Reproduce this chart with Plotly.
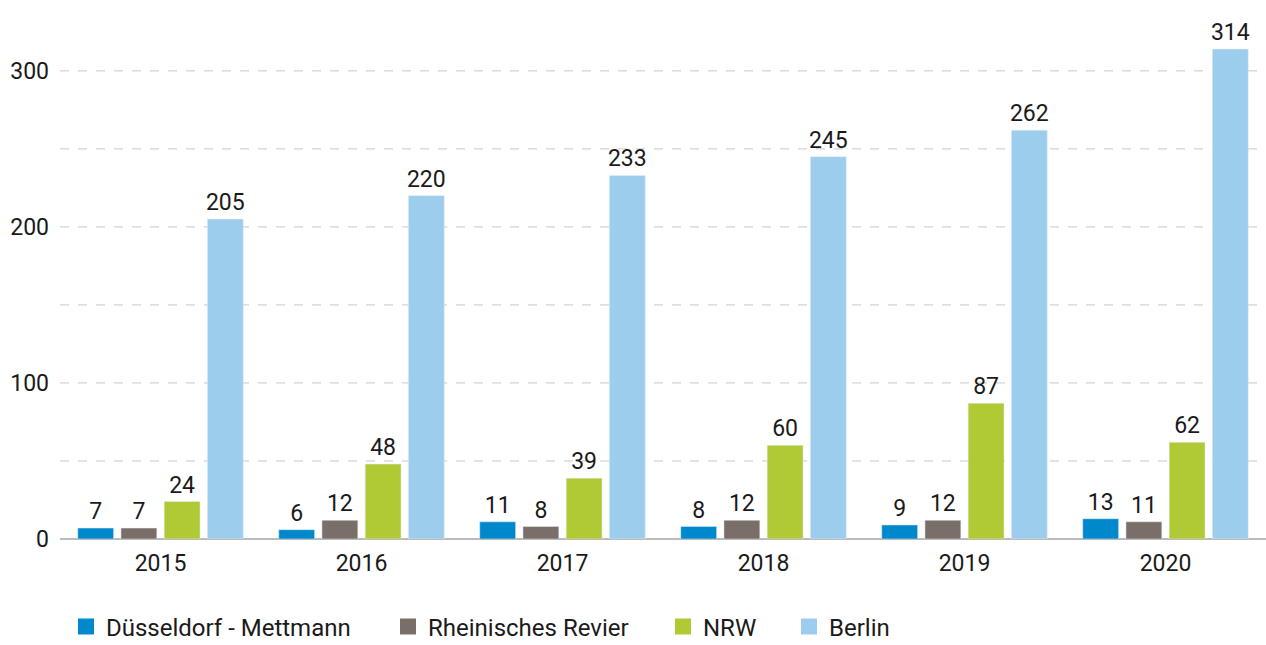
import plotly.graph_objects as go

years = ["2015", "2016", "2017", "2018", "2019", "2020"]
duesseldorf = [7, 6, 11, 8, 9, 13]
rheinisches = [7, 12, 8, 12, 12, 11]
nrw = [24, 48, 39, 60, 87, 62]
berlin = [205, 220, 233, 245, 262, 314]

series_names = ["Düsseldorf - Mettmann", "Rheinisches Revier", "NRW", "Berlin"]
series_values = [duesseldorf, rheinisches, nrw, berlin]
series_colors = ["#0088CC", "#7A6E69", "#AFCA35", "#9DCDED"]
legend_ids = ["legend", "legend2", "legend3", "legend4"]
legend_x_px = [66, 388, 663, 789]
legend_entry_w = [300, 260, 110, 110]

FONT = "Roboto, sans-serif"

fig = go.Figure()
for name, vals, color, lid in zip(series_names, series_values, series_colors, legend_ids):
    fig.add_trace(go.Bar(
        x=years, y=vals, name=name, marker_color=color, showlegend=False,
        text=[str(v) for v in vals], textposition="outside",
        constraintext="none",
        textfont=dict(size=23, color="#1a1a1a", family=FONT), cliponaxis=False,
    ))
    # legend entry with a larger square symbol
    fig.add_trace(go.Scatter(
        x=[None], y=[None], mode="markers", name=name, legend=lid,
        marker=dict(symbol="square", size=22, color=color),
        showlegend=True, hoverinfo="skip",
    ))

legend_common = dict(orientation="h", xanchor="left", xref="container",
                     yref="container", y=1 - 627 / 645, yanchor="middle",
                     font=dict(size=24, family=FONT, color="#1a1a1a"),
                     itemwidth=30, itemsizing="trace", bgcolor="rgba(0,0,0,0)")

layout_legends = {}
for lid, xp, ew in zip(legend_ids, legend_x_px, legend_entry_w):
    layout_legends[lid] = dict(legend_common, x=xp / 1266, entrywidth=ew,
                               entrywidthmode="pixels")

fig.update_layout(
    width=1266, height=645,
    margin=dict(l=60, r=0, t=10, b=106),
    paper_bgcolor="white", plot_bgcolor="white",
    barmode="group", bargap=0.14, bargroupgap=0.17,
    font=dict(family=FONT, size=23, color="#1a1a1a"),
    xaxis=dict(showgrid=False, ticks="", tickfont=dict(size=23),
               showline=False, automargin=False, ticklabelstandoff=8),
    yaxis=dict(range=[0, 339], tickvals=[0, 100, 200, 300],
               showgrid=False, zeroline=True, zerolinecolor="#BBBBBB",
               zerolinewidth=1.5, tickfont=dict(size=23), ticks="",
               ticklabelstandoff=10, automargin=False),
    **layout_legends,
)

for v in [50, 100, 150, 200, 250, 300]:
    fig.add_hline(y=v, line=dict(color="#C8C8C8", width=1, dash="dash"), layer="below")

fig.write_html("out.html", config={"displayModeBar": False},
               post_script="document.body.style.margin='0';")
